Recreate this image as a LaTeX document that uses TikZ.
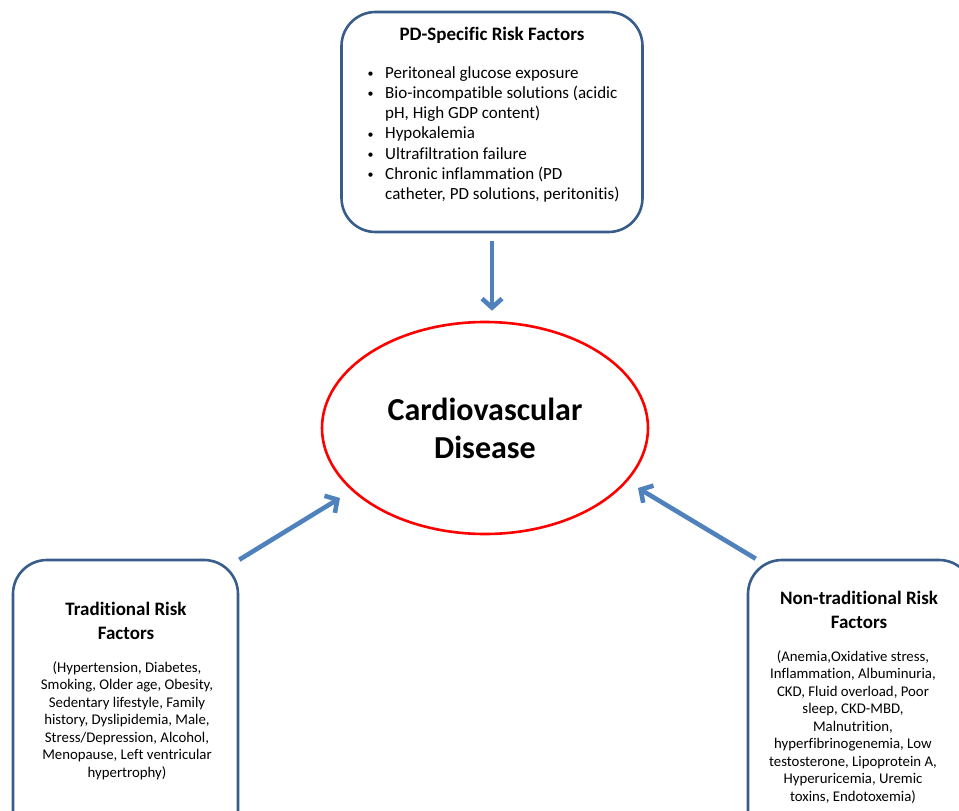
\documentclass[tikz,border=0pt]{standalone}
\usepackage{fontspec}
\setmainfont{Carlito}[Ligatures=NoCommon]
\usetikzlibrary{arrows.meta,shapes.geometric}

\definecolor{boxblue}{RGB}{56,93,138}
\definecolor{arrowblue}{RGB}{79,129,189}
\newcommand{\itm}{\makebox[19pt][l]{\hspace{1.5pt}\raisebox{0.6pt}{\fontsize{12}{12}\selectfont\textbullet}}}

\begin{document}
\begin{tikzpicture}[x=1pt, y=-1pt,
    riskbox/.style={draw=boxblue, line width=2.6pt, rounded corners=34pt, fill=white},
    cause/.style={draw=arrowblue, line width=4.6pt, -{Straight Barb[length=9pt,width=20pt]}},
    headtext/.style={font=\bfseries\fontsize{19}{24}\selectfont, align=center},
    listtext/.style={font=\fontsize{14.8}{17.5}\selectfont, align=center, inner sep=0pt}]
    % page
    \useasboundingbox (0,0) rectangle (959,811);
    \clip (0,0) rectangle (959,811);

    % PD-specific box
    \node[riskbox, minimum width=301pt, minimum height=220pt] (pd) at (492,122) {};
    \node[headtext] (pdtitle) at (492,35) {PD-Specific Risk Factors};
    \node[anchor=north west, align=left, inner sep=0pt, font=\fontsize{17}{20.3}\selectfont] (pdlist) at (366,66) {%
        \itm Peritoneal glucose exposure\\
        \itm Bio-incompatible solutions (acidic\\
        \hspace*{19pt}pH, High GDP content)\\
        \itm Hypokalemia\\
        \itm Ultrafiltration failure\\
        \itm Chronic inflammation (PD\\
        \hspace*{19pt}catheter, PD solutions, peritonitis)};

    % disease in the middle
    \node[ellipse, draw=red, line width=2.6pt, minimum width=326pt, minimum height=212pt,
        inner sep=0pt, align=center, font=\bfseries\fontsize{32}{38}\selectfont] (cvd) at (485,428)
        {Cardiovascular\\Disease};

    % traditional box
    \node[riskbox, minimum width=225pt, minimum height=290pt] (trad) at (125.5,705) {};
    \node[headtext] (tradtitle) at (126,621) {Traditional Risk\\Factors};
    \node[listtext] (tradlist) at (127,720.5) {(Hypertension, Diabetes,\\
        Smoking, Older age, Obesity,\\
        Sedentary lifestyle, Family\\
        history, Dyslipidemia, Male,\\
        Stress/Depression, Alcohol,\\
        Menopause, Left ventricular\\
        hypertrophy)};

    % non-traditional box
    \node[riskbox, minimum width=225pt, minimum height=290pt] (nontrad) at (860.5,705) {};
    \node[headtext] (nontradtitle) at (859,610) {Non-traditional Risk\\Factors};
    \node[listtext] (nontradlist) at (853,727) {(Anemia,Oxidative stress,\\
        Inflammation, Albuminuria,\\
        CKD, Fluid overload, Poor\\
        sleep, CKD-MBD,\\
        Malnutrition,\\
        hyperfibrinogenemia, Low\\
        testosterone, Lipoprotein A,\\
        Hyperuricemia, Uremic\\
        toxins, Endotoxemia)};

    % arrows
    \coordinate (tradtip) at (340,498);
    \coordinate (nontradtip) at (638,488);
    \draw[cause, shorten <=8pt, shorten >=10pt] (pd.south) -- (pd.south |- cvd.north);
    \draw[cause] ([shift={(0,1)}]trad.north east) -- (tradtip);
    \draw[cause] ([xshift=9pt]nontrad.north west) -- (nontradtip);
\end{tikzpicture}
\end{document}
